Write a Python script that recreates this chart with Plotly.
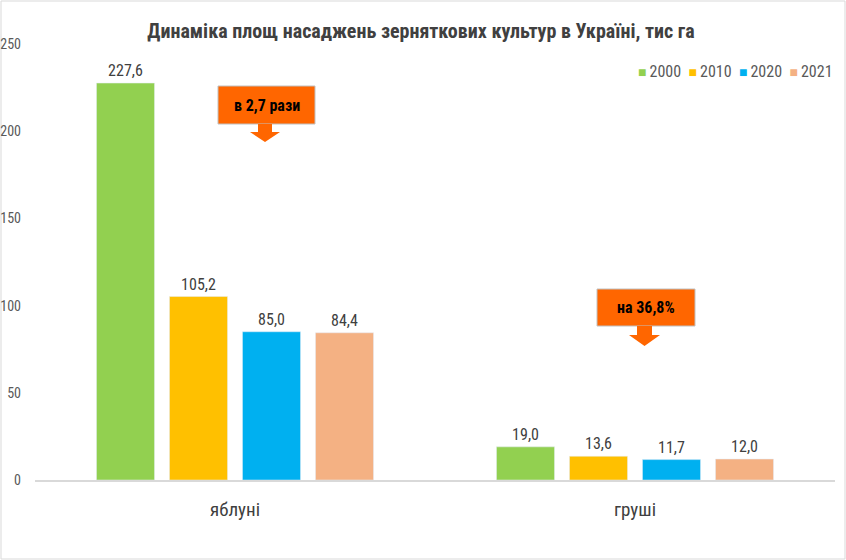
import plotly.graph_objects as go

categories = ["яблуні", "груші"]
years = ["2000", "2010", "2020", "2021"]
values_2000 = [227.6, 19.0]
values_2010 = [105.2, 13.6]
values_2020 = [85.0, 11.7]
values_2021 = [84.4, 12.0]
series = [values_2000, values_2010, values_2020, values_2021]
colors = ["#92D050", "#FFC000", "#00B0F0", "#F4B183"]
title = "Динаміка площ насаджень зерняткових культур в Україні, тис га"
callouts = ["в 2,7 рази", "на 36,8%"]

FONT = "Liberation Sans Narrow, Roboto Condensed, Arial Narrow, sans-serif"
W, H = 846, 560
L, R, T, B = 35, 11, 44, 80
PW, PH = W - L - R, H - T - B


def px(x):
    return (x - L) / PW


def py(y):
    return (H - B - y) / PH


fig = go.Figure()
for yr, vals, col in zip(years, series, colors):
    fig.add_trace(go.Bar(
        name=yr, x=categories, y=vals, marker_color=col,
        text=[f"{v:.1f}".replace(".", ",") for v in vals],
        textposition="outside", cliponaxis=False,
        textfont=dict(family=FONT, size=16, color="#404040"),
        showlegend=False,
    ))

shapes = [dict(type="rect", xref="paper", yref="paper",
               x0=px(1), x1=px(845), y0=py(1), y1=py(559),
               line=dict(color="#D9D9D9", width=1), fillcolor="rgba(0,0,0,0)", layer="below")]

boxes = [((218, 86, 315, 124), (258, 272, 250, 280, 132, 142)),
         ((597, 289, 695, 326), (637, 652, 629, 660, 335, 346))]
annotations = []
for ((x0, y0, x1, y1), (s0, s1, h0, h1, hy, tip)), txt in zip(boxes, callouts):
    shapes.append(dict(type="rect", xref="paper", yref="paper",
                       x0=px(x0), x1=px(x1), y0=py(y1), y1=py(y0),
                       fillcolor="#FF6600", line=dict(color="#C0C0C0", width=1)))
    path = (f"M {px(s0)},{py(y1)} L {px(s1)},{py(y1)} L {px(s1)},{py(hy)} L {px(h1)},{py(hy)} "
            f"L {px((h0 + h1) / 2)},{py(tip)} L {px(h0)},{py(hy)} L {px(s0)},{py(hy)} Z")
    shapes.append(dict(type="path", xref="paper", yref="paper", path=path,
                       fillcolor="#FF6600", line=dict(width=0)))
    annotations.append(dict(xref="paper", yref="paper", x=px((x0 + x1) / 2), y=py((y0 + y1) / 2),
                            xanchor="center", yanchor="middle",
                            text=f"<b>{txt}</b>", showarrow=False,
                            font=dict(family=FONT, size=16, color="#000000")))

legend_text = "&nbsp;&nbsp;".join(
    f"<span style='color:{c};font-size:14px'>■</span>&#8201;{yr}" for yr, c in zip(years, colors))
annotations.append(dict(xref="paper", yref="paper", x=px(835), y=py(72),
                        xanchor="right", yanchor="middle", showarrow=False,
                        text=legend_text, font=dict(family=FONT, size=16, color="#595959")))

fig.update_layout(
    width=W, height=H,
    margin=dict(l=L, r=R, t=T, b=B),
    paper_bgcolor="white", plot_bgcolor="white",
    showlegend=False,
    title=dict(text=f"<b>{title}</b>", x=421 / W, xanchor="center", y=1 - 31 / H, yanchor="middle",
               font=dict(family=FONT, size=20, color="#404040")),
    barmode="group", bargap=0.27, bargroupgap=0.205,
    xaxis=dict(showline=True, linecolor="#D9D9D9", linewidth=1.5, showgrid=False,
               tickfont=dict(family=FONT, size=19, color="#404040"), ticks="", ticklabelstandoff=11,
               range=[-0.5, 1.5], automargin=False),
    yaxis=dict(range=[0, 250], dtick=50, showgrid=False, zeroline=False, showline=False,
               tickfont=dict(family=FONT, size=14, color="#595959"), ticks="", ticklabelstandoff=13,
               automargin=False),
    shapes=shapes, annotations=annotations,
)
fig.write_html("out.html")
